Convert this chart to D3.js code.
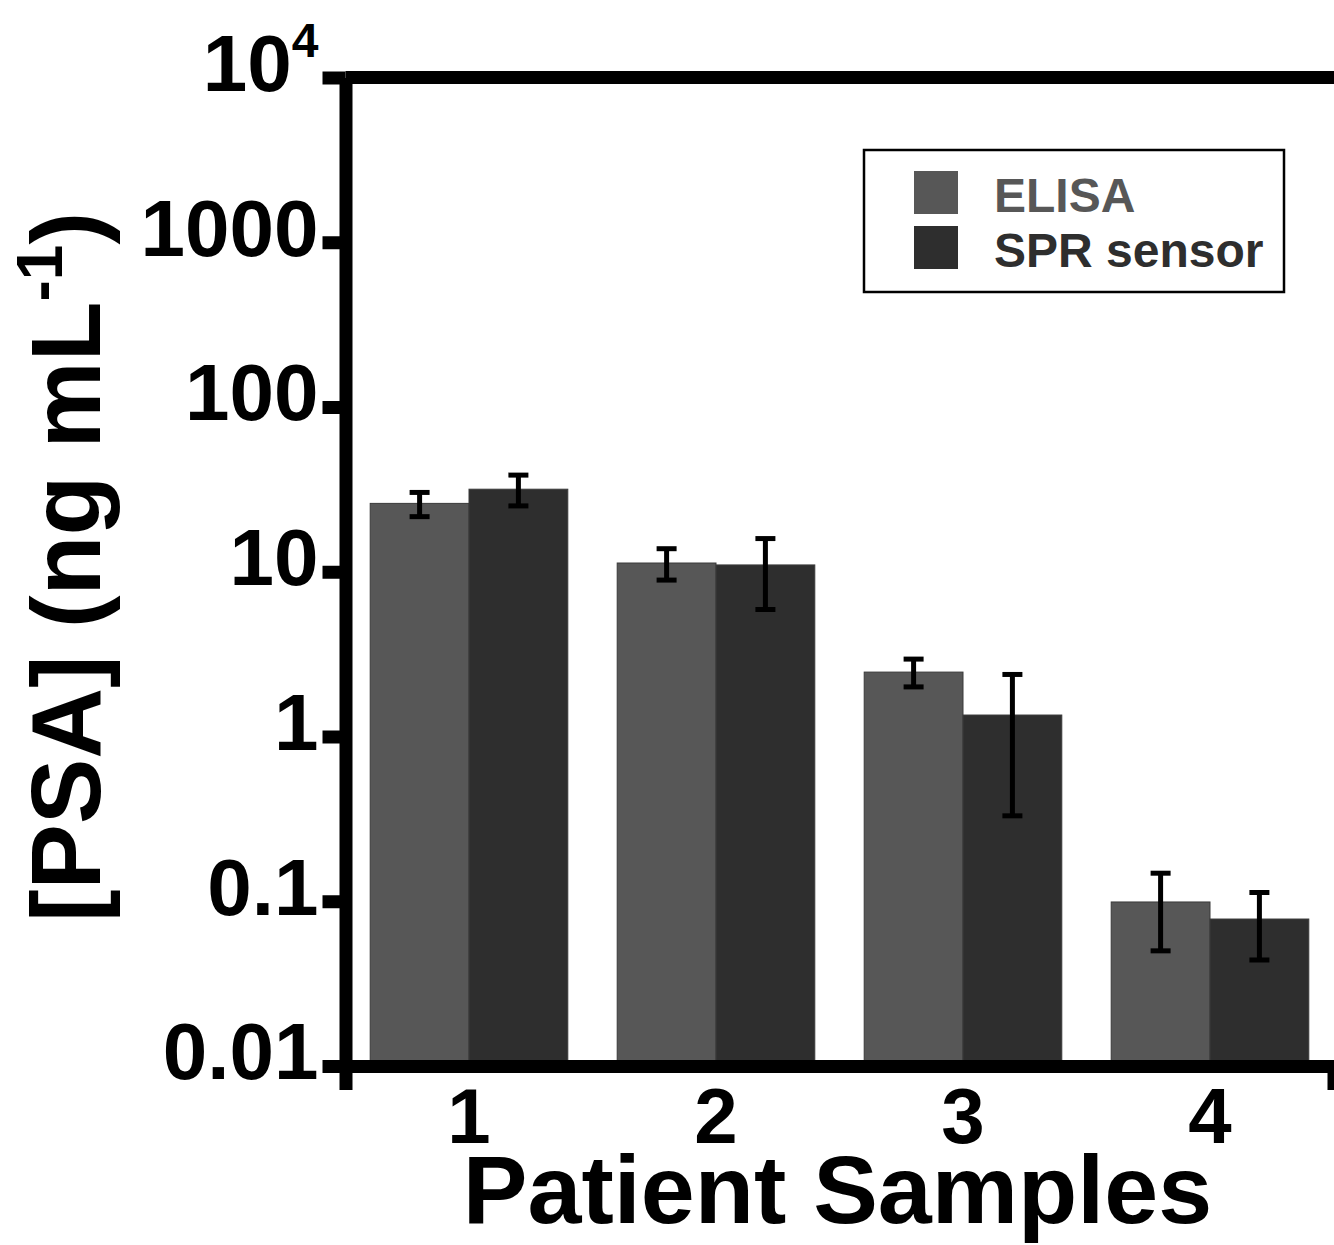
<!DOCTYPE html>
<html>
<head>
<meta charset="utf-8">
<script src="https://cdn.jsdelivr.net/npm/d3@7"></script>
<style>
  body { margin: 0; background: #fff; }
  svg text { font-family: "Liberation Sans", Arial, sans-serif; font-weight: bold; }
</style>
</head>
<body>
<div id="chart"></div>
<script>
// data
const samples = ["1", "2", "3", "4"];
const seriesNames = ["ELISA", "SPR sensor"];
const elisaValues = [26.0, 11.3, 2.46, 0.099];
const elisaLow = [21.6, 8.9, 2.0, 0.050];
const elisaHigh = [30.3, 13.8, 2.95, 0.148];
const sprValues = [31.7, 11.0, 1.35, 0.078];
const sprLow = [25.1, 5.9, 0.33, 0.044];
const sprHigh = [38.6, 15.9, 2.38, 0.113];
const yTicks = [0.01, 0.1, 1, 10, 100, 1000, 10000];
const colors = ["#575757", "#2e2e2e"];

const width = 1334, height = 1245;
const plotLeft = 345.5, plotRight = 1333.5, plotTop = 77.5, plotBottom = 1066;
const axisW = 13;

const svg = d3.select("#chart").append("svg")
    .attr("width", width)
    .attr("height", height);

const x = d3.scaleBand()
    .domain(samples)
    .range([plotLeft, plotRight])
    .paddingInner(0.2)
    .paddingOuter(0.1);

const xSub = d3.scaleBand()
    .domain(seriesNames)
    .range([0, x.bandwidth()]);

const y = d3.scaleLog()
    .domain([0.01, 10000])
    .range([plotBottom, plotTop]);

// flatten rows for drawing
const rows = [];
samples.forEach((s, i) => {
    rows.push({ sample: s, series: seriesNames[0], v: elisaValues[i], lo: elisaLow[i], hi: elisaHigh[i] });
    rows.push({ sample: s, series: seriesNames[1], v: sprValues[i], lo: sprLow[i], hi: sprHigh[i] });
});

// bars
svg.append("g").selectAll("rect")
    .data(rows)
    .enter()
    .append("rect")
    .attr("x", d => x(d.sample) + xSub(d.series))
    .attr("y", d => y(d.v))
    .attr("width", xSub.bandwidth())
    .attr("height", d => y(0.01) - y(d.v))
    .attr("fill", d => colors[seriesNames.indexOf(d.series)])
    .attr("stroke", "#3a3a3a")
    .attr("stroke-width", 1);

// error bars
const err = svg.append("g").attr("stroke", "#000").attr("stroke-width", 5);
const cx = d => x(d.sample) + xSub(d.series) + xSub.bandwidth() / 2;
err.selectAll(".stem").data(rows).enter().append("line")
    .attr("x1", cx).attr("x2", cx)
    .attr("y1", d => y(d.lo)).attr("y2", d => y(d.hi));
err.selectAll(".capHi").data(rows).enter().append("line")
    .attr("x1", d => cx(d) - 10).attr("x2", d => cx(d) + 10)
    .attr("y1", d => y(d.hi)).attr("y2", d => y(d.hi));
err.selectAll(".capLo").data(rows).enter().append("line")
    .attr("x1", d => cx(d) - 10).attr("x2", d => cx(d) + 10)
    .attr("y1", d => y(d.lo)).attr("y2", d => y(d.lo));

// top frame line
svg.append("line")
    .attr("x1", plotLeft).attr("x2", plotRight + axisW / 2)
    .attr("y1", y(10000)).attr("y2", y(10000))
    .attr("stroke", "#000").attr("stroke-width", axisW);

// Y axis
const yAxis = svg.append("g")
    .attr("transform", `translate(${plotLeft},0)`)
    .call(d3.axisLeft(y).tickValues(yTicks).tickSize(23).tickSizeOuter(0).tickPadding(4)
        .tickFormat(d => d >= 10000 ? "10" : d3.format("~g")(d)));
yAxis.select(".domain").attr("stroke-width", axisW);
yAxis.selectAll(".tick line").attr("stroke-width", axisW);
yAxis.selectAll(".tick text")
    .attr("font-size", 80)
    .attr("fill", "#000")
    .attr("dy", "0.16em");
yAxis.selectAll(".tick text").filter(d => d >= 10000)
    .append("tspan")
    .attr("font-size", 48)
    .attr("dy", -34)
    .text("4");

// X axis: outer ticks make the downward stubs at both ends
const xAxis = svg.append("g")
    .attr("transform", `translate(0,${plotBottom})`)
    .call(d3.axisBottom(x).tickSizeInner(0).tickSizeOuter(24).tickPadding(22));
xAxis.select(".domain").attr("stroke-width", axisW).attr("stroke-linejoin", "miter");
xAxis.selectAll(".tick text").attr("font-size", 78).attr("fill", "#000");

// axis titles
svg.append("text")
    .attr("x", (plotLeft + plotRight) / 2 - 2)
    .attr("y", 1223)
    .attr("text-anchor", "middle")
    .attr("font-size", 97)
    .text("Patient Samples");

const yTitle = svg.append("text")
    .attr("transform", "translate(100,567) rotate(-90)")
    .attr("text-anchor", "middle")
    .attr("font-size", 98);
yTitle.append("tspan").text("[PSA] (ng mL");
yTitle.append("tspan").attr("font-size", 64).attr("dy", -38).text("-1");
yTitle.append("tspan").attr("dy", 38).text(")");

// legend
const legend = svg.append("g");
legend.append("rect")
    .attr("x", 864).attr("y", 150)
    .attr("width", 420).attr("height", 142)
    .attr("fill", "#fff").attr("stroke", "#000").attr("stroke-width", 2.5);
seriesNames.forEach((name, i) => {
    legend.append("rect")
        .attr("x", 914).attr("y", 171 + i * 55)
        .attr("width", 44).attr("height", 43)
        .attr("fill", colors[i]);
    legend.append("text")
        .attr("x", 994).attr("y", 212 + i * 55)
        .attr("font-size", 48)
        .attr("fill", colors[i])
        .text(name);
});
</script>
</body>
</html>
